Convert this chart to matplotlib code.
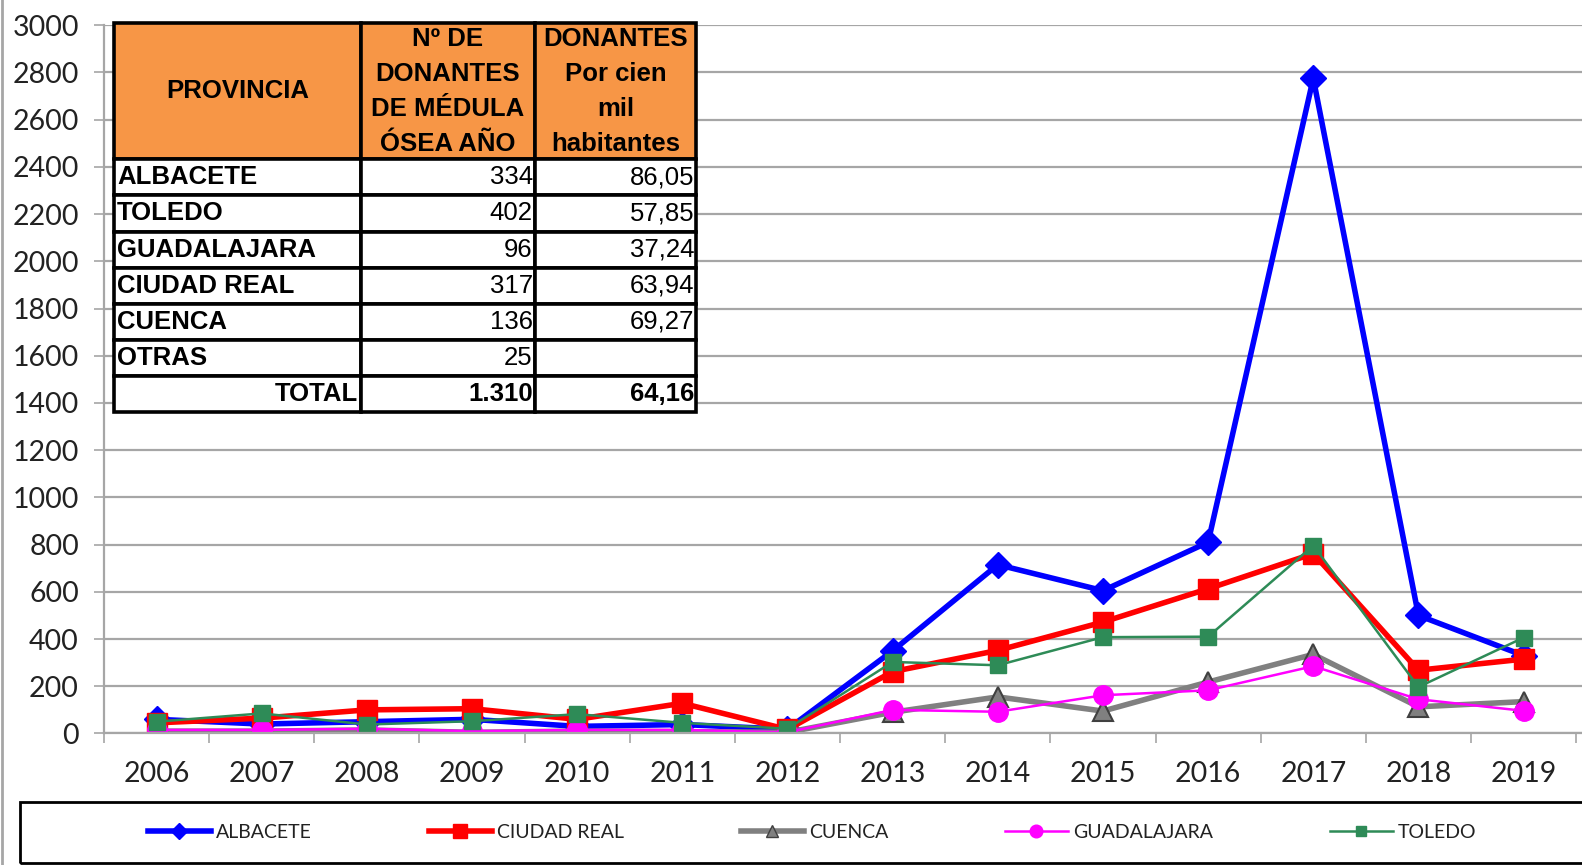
import matplotlib.pyplot as plt
from matplotlib.patches import Rectangle
from matplotlib.lines import Line2D

# -------------------------
# DATA
# -------------------------

years = ["2006", "2007", "2008", "2009", "2010", "2011", "2012",
         "2013", "2014", "2015", "2016", "2017", "2018", "2019"]

albacete = [60, 40, 50, 60, 30, 38, 18, 350, 715, 605, 810, 2775, 500, 330]
ciudad_real = [45, 65, 100, 105, 60, 128, 17, 262, 352, 472, 613, 762, 268, 315]
cuenca = [10, 10, 15, 5, 10, 8, 5, 90, 155, 95, 218, 335, 113, 135]
guadalajara = [15, 15, 20, 10, 15, 15, 5, 100, 92, 162, 183, 285, 145, 96]
toledo = [50, 85, 38, 52, 82, 45, 20, 303, 289, 408, 410, 796, 197, 406]

table_header = ["PROVINCIA", "Nº DE\nDONANTES\nDE MÉDULA\nÓSEA AÑO",
                "DONANTES\nPor cien\nmil\nhabitantes"]
table_provinces = ["ALBACETE", "TOLEDO", "GUADALAJARA", "CIUDAD REAL",
                   "CUENCA", "OTRAS", "TOTAL"]
table_donors = ["334", "402", "96", "317", "136", "25", "1.310"]
table_rate = ["86,05", "57,85", "37,24", "63,94", "69,27", "", "64,16"]

# -------------------------
# FIGURE
# -------------------------

W, H = 1582, 865
S = 1582 / 1568  # layout measured on the 1568 px preview
fig = plt.figure(figsize=(W / 100, H / 100), dpi=100)

tick_font = ["Lato", "DejaVu Sans"]
table_font = ["Liberation Sans Narrow", "Liberation Sans", "DejaVu Sans"]


def box(x0, y0, x1, y1):
    # preview pixel box (top-left origin) -> figure fraction
    x0, y0, x1, y1 = x0 * S, y0 * S, x1 * S, y1 * S
    return [x0 / W, 1 - y1 / H, (x1 - x0) / W, (y1 - y0) / H]


ax = fig.add_axes(box(103, 25, 1568, 727))

series = [
    ("ALBACETE", albacete, dict(color="#0000FF", lw=4, marker="D", ms=13,
                                mfc="#0000FF", mec="#0000FF")),
    ("CIUDAD REAL", ciudad_real, dict(color="#FF0000", lw=4, marker="s", ms=15,
                                      mfc="#FF0000", mec="#FF0000")),
    ("CUENCA", cuenca, dict(color="#808080", lw=4, marker="^", ms=14,
                            mfc="#808080", mec="#404040", mew=1.5)),
    ("GUADALAJARA", guadalajara, dict(color="#FF00FF", lw=1.8, marker="o", ms=14,
                                      mfc="#FF00FF", mec="#FF00FF")),
    ("TOLEDO", toledo, dict(color="#2E8B57", lw=1.8, marker="s", ms=11.5,
                            mfc="#2E8B57", mec="#2E8B57")),
]

x = list(range(len(years)))
for name, vals, st in series:
    ax.plot(x, vals, label=name, **st)

step = (1510 - 155) / 13
ax.set_xlim(-0.5, -0.5 + (1568 - 103) / step)
ax.set_ylim(0, 3000)
ax.set_yticks(range(0, 3001, 200))
ax.set_xticks(x)
ax.set_xticklabels(years)
ax.set_xticks([i + 0.5 for i in range(-1, len(years))], minor=True)

ax.grid(axis="y", color="#A6A6A6", lw=1.6)
ax.set_axisbelow(True)
for s in ["top", "right"]:
    ax.spines[s].set_visible(False)
for s in ["left", "bottom"]:
    ax.spines[s].set_color("#A6A6A6")
    ax.spines[s].set_linewidth(1.6)

ax.tick_params(axis="y", length=7, width=1.2, color="#A6A6A6", pad=11)
ax.tick_params(axis="x", which="major", length=0, pad=20)
ax.tick_params(axis="x", which="minor", length=7, width=1.2, color="#A6A6A6")
for lab in ax.get_xticklabels() + ax.get_yticklabels():
    lab.set_fontfamily(tick_font)
    lab.set_fontsize(20.5)
    lab.set_color("#222222")

# -------------------------
# TABLE
# -------------------------

tax = fig.add_axes(box(113, 23, 690, 408))
tax.axis("off")

cells = [table_header] + [[p, d, r] for p, d, r in
                          zip(table_provinces, table_donors, table_rate)]
tbl = tax.table(cellText=cells, bbox=[0, 0, 1, 1], colWidths=[245, 172, 160])
tbl.auto_set_font_size(False)

header_h = 135
row_h = 35.7
n_rows = len(cells)
for (r, c), cell in tbl.get_celld().items():
    cell.set_height(header_h if r == 0 else row_h)
    cell.set_linewidth(2.6)
    cell.set_edgecolor("black")
    txt = cell.get_text()
    txt.set_fontfamily(table_font)
    txt.set_fontsize(18.5)
    txt.set_linespacing(1.58)
    if r == 0:
        cell.set_facecolor("#F79646")
        txt.set_fontweight("bold")
        cell._loc = "center"
        txt.set_ha("center")
    else:
        cell.set_facecolor("white")
        if c == 0:
            txt.set_fontweight("bold")
            if r == n_rows - 1:
                cell._loc = "right"
                txt.set_ha("right")
            else:
                cell._loc = "left"
                txt.set_ha("left")
        else:
            cell._loc = "right"
            txt.set_ha("right")
            if r == n_rows - 1:
                txt.set_fontweight("bold")
    cell.PAD = 0.012

# -------------------------
# LEGEND
# -------------------------

fig.patches.append(Rectangle((20 * S / W, 1 - 855 * S / H), 1.0, 60 * S / H,
                             transform=fig.transFigure, fill=False,
                             edgecolor="black", lw=2))
fig.lines.append(Line2D([2 / W, 2 / W], [0, 1], transform=fig.transFigure,
                        color="#A6A6A6", lw=2))

leg_handles = []
for name, vals, st in series:
    leg_handles.append(Line2D([0], [0], color=st["color"], lw=st["lw"],
                              marker=st["marker"], ms=st["ms"] * 0.65,
                              mfc=st["mfc"], mec=st["mec"]))
leg = fig.legend(leg_handles, [s[0] for s in series], loc="center",
                 bbox_to_anchor=(805 * S / W, 1 - 825 * S / H), ncol=5,
                 frameon=False, handlelength=3.25, handletextpad=0.26,
                 columnspacing=6.0, borderpad=0,
                 prop={"family": tick_font, "size": 14})
for t in leg.get_texts():
    t.set_color("#222222")

plt.savefig("out.png", dpi=100)
